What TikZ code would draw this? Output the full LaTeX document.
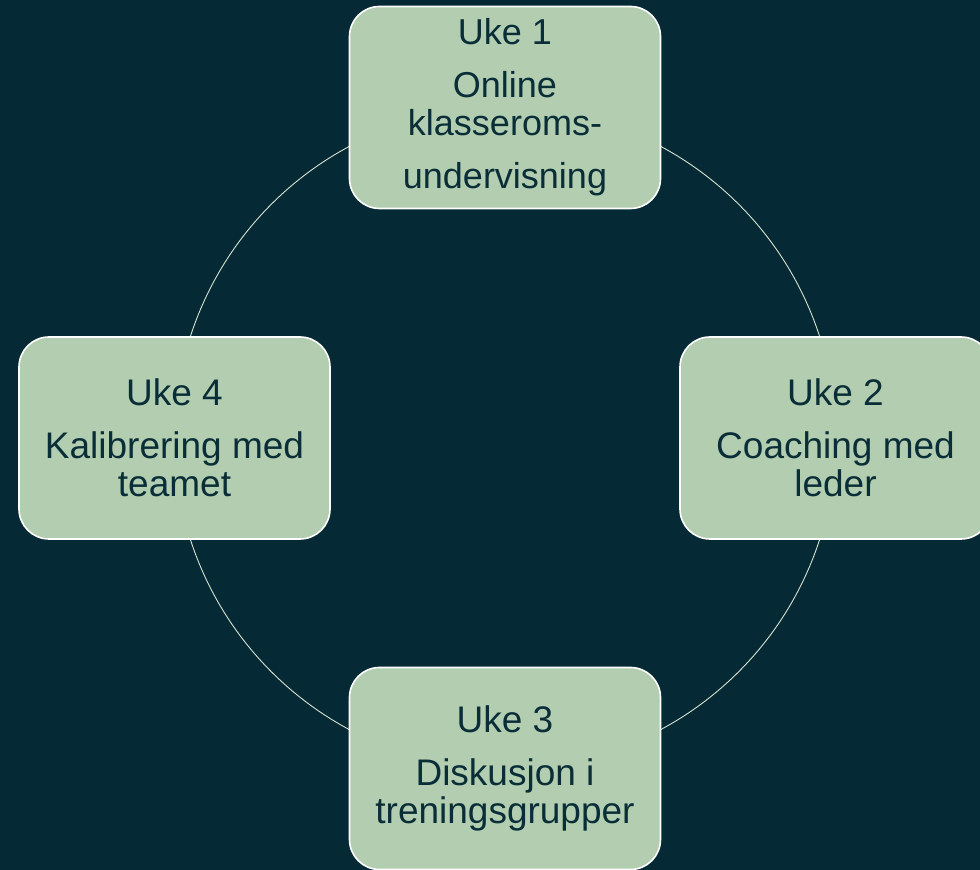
\documentclass[tikz,border=0pt]{standalone}
\usepackage{fontspec}
\setmainfont{Liberation Sans}
\usepackage{xcolor}
\usetikzlibrary{positioning,calc}
\definecolor{bakgrunn}{HTML}{062A35}
\definecolor{boksgronn}{HTML}{B3CDB0}
\definecolor{tekstmork}{HTML}{0A2E37}
\definecolor{ringfarge}{HTML}{D4E2CF}
\pgfdeclarelayer{bunn}
\pgfdeclarelayer{ring}
\pgfsetlayers{bunn,ring,main}
\tikzset{
    every picture/.style={font=\rmfamily},
}

\begin{document}
\begin{tikzpicture}[
    x=1pt, y=1pt,
    ukeboks/.style={
        rectangle,
        rounded corners=30pt,
        draw=white,
        fill=boksgronn,
        minimum width=311pt,
        minimum height=202pt,
        inner sep=0pt,
        align=center,
        text=tekstmork,
        font=\fontsize{37}{38}\selectfont,
        line width=1.6pt
    },
    ringlinje/.style={
        draw=ringfarge,
        line width=0.9pt
    }
]

% Bakgrunn
\begin{pgfonlayer}{bunn}
\fill[bakgrunn] (0,0) rectangle (980,870);
\end{pgfonlayer}
\useasboundingbox (0,0) rectangle (980,870);

% Fire uker
\node[ukeboks, font=\fontsize{36}{38}\selectfont] (uke1) at (505,762.5) {Uke 1\\[15pt]Online\\klasseroms-\\[15pt]undervisning};
\node[ukeboks] (uke2) at (835.5,432) {Uke 2\\[15pt]Coaching med\\leder};
\node[ukeboks] (uke3) at (505,101.5) {Uke 3\\[15pt]Diskusjon i\\treningsgrupper};
\node[ukeboks] (uke4) at (174.5,432) {Uke 4\\[15pt]Kalibrering med\\teamet};

% Syklus
\begin{pgfonlayer}{ring}
\draw[ringlinje] (uke1.center) arc[start angle=90, end angle=0, radius=330.5];
\draw[ringlinje] (uke2.center) arc[start angle=0, end angle=-90, radius=330.5];
\draw[ringlinje] (uke3.center) arc[start angle=-90, end angle=-180, radius=330.5];
\draw[ringlinje] (uke4.center) arc[start angle=180, end angle=90, radius=330.5];
\end{pgfonlayer}

\end{tikzpicture}
\end{document}
